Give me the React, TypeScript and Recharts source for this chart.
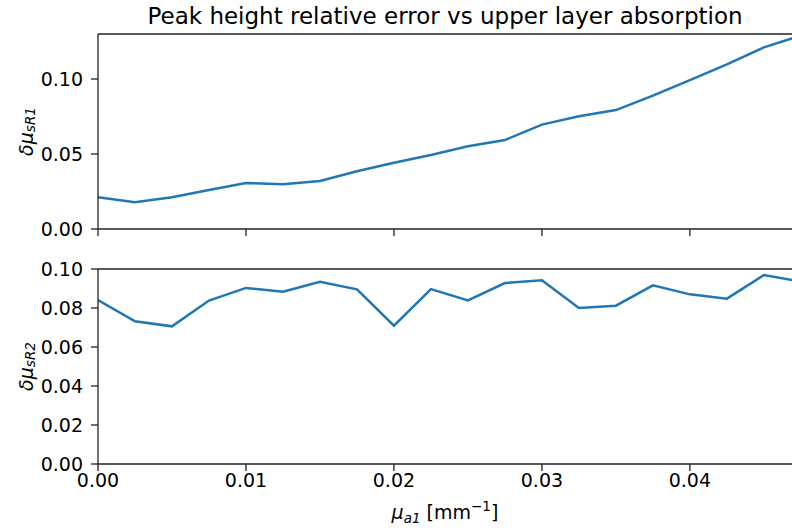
import { LineChart, Line, XAxis, YAxis, ReferenceLine } from 'recharts';

// absorption of the upper layer [mm^-1]
const mua1 = [
  0, 0.0025, 0.005, 0.0075, 0.01, 0.0125, 0.015, 0.0175, 0.02, 0.0225,
  0.025, 0.0275, 0.03, 0.0325, 0.035, 0.0375, 0.04, 0.0425, 0.045, 0.0475,
];
const errR1 = [
  0.0212, 0.0178, 0.0212, 0.026, 0.0307, 0.0298, 0.032, 0.0385, 0.0442, 0.0493,
  0.0551, 0.0593, 0.0696, 0.0751, 0.0793, 0.0889, 0.0993, 0.1098, 0.1211, 0.129,
];
const errR2 = [
  0.0841, 0.0732, 0.0706, 0.0838, 0.0903, 0.0884, 0.0935, 0.0896, 0.0709, 0.0897,
  0.0839, 0.0928, 0.0942, 0.08, 0.0812, 0.0916, 0.087, 0.0848, 0.0969, 0.0936,
];
const xTicks = [0, 0.01, 0.02, 0.03, 0.04];
const yTicksTop = [0, 0.05, 0.1];
const yTicksBottom = [0, 0.02, 0.04, 0.06, 0.08, 0.1];

const topData = mua1.map((x, i) => ({ x, y: errR1[i] }));
const bottomData = mua1.map((x, i) => ({ x, y: errR2[i] }));

const FONT = 'DejaVu Sans';
const AXIS = '#222';
const X_MAX = 0.0469;
const FS = 19;
const SUB = 13.5;
const fmt = (v: number) => v.toFixed(2);

const YLabel = ({ viewBox, sub }: any) => {
  const cx = viewBox.x + 26;
  const cy = viewBox.y + viewBox.height / 2;
  return (
    <text
      x={cx}
      y={cy}
      transform={`rotate(-90 ${cx} ${cy})`}
      textAnchor="middle"
      dominantBaseline="central"
      fontFamily={FONT}
      fontSize={FS}
      fill="#000"
    >
      <tspan fontStyle="italic">δμ</tspan>
      <tspan fontStyle="italic" fontSize={SUB} dy={4}>{sub}</tspan>
    </text>
  );
};

// local y of the bottom panel (panel starts at page y 240)
const XLabel = ({ viewBox }: any) => {
  const cx = viewBox.x + viewBox.width / 2;
  return (
    <text x={cx} y={279} textAnchor="middle" fontFamily={FONT} fontSize={FS} fill="#000">
      <tspan fontStyle="italic">μ</tspan>
      <tspan fontStyle="italic" fontSize={SUB} dy={4}>a1</tspan>
      <tspan dy={-4}> [mm</tspan>
      <tspan fontSize={SUB} dy={-8}>−1</tspan>
      <tspan dy={8}>]</tspan>
    </text>
  );
};

function Panel({
  data,
  height,
  top,
  xHeight,
  yTicks,
  yMax,
  sub,
  showX,
}: {
  data: { x: number; y: number }[];
  height: number;
  top: number;
  xHeight: number;
  yTicks: number[];
  yMax: number;
  sub: string;
  showX: boolean;
}) {
  const tickStyle = { fill: '#000', fontSize: FS, fontFamily: FONT };
  return (
    <LineChart width={792} height={height} data={data} margin={{ top, right: 0, bottom: 0, left: 0 }}>
      <XAxis
        dataKey="x"
        type="number"
        domain={[0, X_MAX]}
        allowDataOverflow
        ticks={xTicks}
        tickFormatter={showX ? fmt : () => ''}
        height={xHeight}
        tick={tickStyle}
        fontSize={FS}
        tickSize={7}
        tickMargin={3}
        stroke={AXIS}
        strokeWidth={1.3}
        label={showX ? { content: <XLabel /> } : undefined}
      />
      <YAxis
        type="number"
        domain={[0, yMax]}
        allowDataOverflow
        ticks={yTicks}
        tickFormatter={fmt}
        width={98}
        tick={tickStyle}
        fontSize={FS}
        tickSize={7}
        tickMargin={8}
        stroke={AXIS}
        strokeWidth={1.3}
        label={{ content: <YLabel sub={sub} /> }}
      />
      <ReferenceLine y={yMax} stroke={AXIS} strokeWidth={1.3} />
      <Line
        type="linear"
        dataKey="y"
        stroke="#1f77b4"
        strokeWidth={2.5}
        dot={false}
        isAnimationActive={false}
      />
    </LineChart>
  );
}

export default function App() {
  return (
    <div
      style={{
        position: 'absolute',
        left: 0,
        top: 0,
        width: 792,
        height: 529,
        background: '#fff',
        fontFamily: FONT,
      }}
    >
      <div
        style={{
          position: 'absolute',
          left: 98,
          top: 2,
          width: 694,
          textAlign: 'center',
          fontSize: 23,
          lineHeight: '28px',
          color: '#000',
          whiteSpace: 'nowrap',
        }}
      >
        Peak height relative error vs upper layer absorption
      </div>
      <div style={{ position: 'absolute', left: 0, top: 0 }}>
        <Panel data={topData} height={240} top={34} xHeight={11} yTicks={yTicksTop} yMax={0.13} sub="sR1" showX={false} />
      </div>
      <div style={{ position: 'absolute', left: 0, top: 240 }}>
        <Panel data={bottomData} height={289} top={29} xHeight={65} yTicks={yTicksBottom} yMax={0.1} sub="sR2" showX />
      </div>
    </div>
  );
}
